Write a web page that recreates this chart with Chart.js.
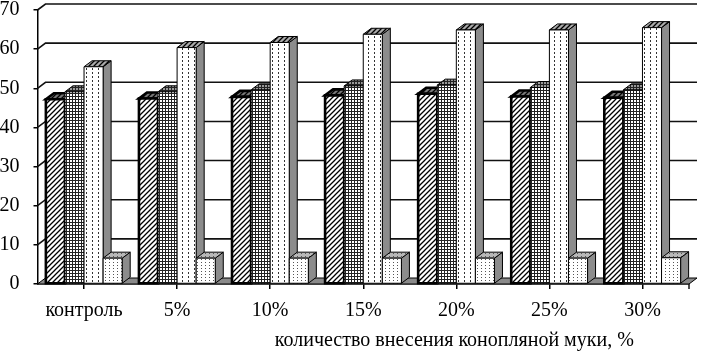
<!DOCTYPE html>
<html lang="ru">
<head>
  <meta charset="UTF-8" />
  <title>Количество внесения конопляной муки</title>
  <script src="https://cdn.jsdelivr.net/npm/chart.js@4"></script>
  <style>
    html, body { margin: 0; padding: 0; background: #fff; }
  </style>
</head>
<body>
<canvas id="chart" width="701" height="352"></canvas>

<script>
// values
const categories = ['контроль', '5%', '10%', '15%', '20%', '25%', '30%'];
const series1 = [47.2, 47.4, 47.8, 48.2, 48.6, 47.9, 47.6];
const series2 = [49.1, 49.1, 49.6, 50.6, 50.8, 50.2, 49.6];
const series3 = [55.5, 60.4, 61.7, 63.8, 64.9, 64.9, 65.5];
const series4 = [6.6, 6.6, 6.6, 6.6, 6.6, 6.6, 6.7];
const yMin = 0, yMax = 70, yStep = 10;
const xTitle = 'количество внесения конопляной муки, %';

const canvas = document.getElementById('chart');
const ctx = canvas.getContext('2d');
const FONT = { family: '"Liberation Serif", "Times New Roman", serif', size: 20 };
const DX = 8, DY = 6; // 3d depth

function tile(w, h, bg, draw) {
  const c = document.createElement('canvas');
  c.width = w; c.height = h;
  const g = c.getContext('2d');
  g.fillStyle = bg;
  g.fillRect(0, 0, w, h);
  draw(g);
  return ctx.createPattern(c, 'repeat');
}

function hatch(bg) {
  return tile(5, 5, bg, g => {
    g.strokeStyle = '#000'; g.lineWidth = 1.3;
    g.beginPath();
    g.moveTo(0, 5); g.lineTo(5, 0);
    g.moveTo(-1, 1); g.lineTo(1, -1);
    g.moveTo(4, 6); g.lineTo(6, 4);
    g.stroke();
  });
}
const gridPat = bg => tile(3, 3, bg, g => {
  g.fillStyle = '#222';
  g.fillRect(0, 0, 3, 1);
  g.fillRect(0, 0, 1, 3);
});
const dashPat = bg => tile(6, 4, bg, g => {
  g.fillStyle = '#333';
  g.fillRect(2, 0, 1, 2);
});
const dotPat = bg => tile(4, 3, bg, g => {
  g.fillStyle = '#555';
  g.fillRect(1, 1, 1, 1);
});

const styles = [
  { front: hatch('#fff'), top: hatch('#777'), side: '#777', border: 2.6 },
  { front: gridPat('#fff'), top: gridPat('#999'), side: '#888', border: 1 },
  { front: dashPat('#fff'), top: hatch('#aaa'), side: '#8c8c8c', border: 1 },
  { front: dotPat('#fff'), top: dotPat('#b8b8b8'), side: '#8c8c8c', border: 1 }
];

function poly(pts, fill, lw) {
  ctx.beginPath();
  ctx.moveTo(pts[0][0], pts[0][1]);
  for (let i = 1; i < pts.length; i++) ctx.lineTo(pts[i][0], pts[i][1]);
  ctx.closePath();
  ctx.fillStyle = fill;
  ctx.fill();
  ctx.lineWidth = lw;
  ctx.strokeStyle = '#000';
  ctx.lineJoin = 'miter';
  ctx.stroke();
}

const box3d = {
  id: 'box3d',
  beforeDatasetsDraw(chart) {
    const { left, right, bottom } = chart.chartArea;
    const y = chart.scales.y;
    const c = chart.ctx;
    c.save();
    // floor
    poly([[left, bottom], [right, bottom], [right + DX, bottom - DY], [left + DX, bottom - DY]], '#8a8a8a', 1);
    // back wall grid
    c.strokeStyle = '#111';
    c.lineWidth = 1.6;
    for (let v = yMin + yStep; v <= yMax; v += yStep) {
      const py = y.getPixelForValue(v);
      c.beginPath();
      c.moveTo(left, py);
      c.lineTo(left + DX, py - DY);
      c.lineTo(right + DX, py - DY);
      c.stroke();
    }
    // small end tick at the right corner of the floor
    c.lineWidth = 1.5;
    c.beginPath();
    c.moveTo(right, bottom);
    c.lineTo(right, bottom + 5);
    c.stroke();
    c.restore();
  },
  afterDatasetsDraw(chart) {
    const c = chart.ctx;
    c.save();
    categories.forEach((cat, i) => {
      styles.forEach((st, d) => {
        const el = chart.getDatasetMeta(d).data[i];
        const { x, y, base, width } = el.getProps(['x', 'y', 'base', 'width'], true);
        const l = x - width / 2, r = x + width / 2;
        poly([[r, y], [r + DX, y - DY], [r + DX, base - DY], [r, base]], st.side, 1);
        poly([[l, y], [l + DX, y - DY], [r + DX, y - DY], [r, y]], st.top, st.border);
        poly([[l, y], [r, y], [r, base], [l, base]], st.front, st.border);
      });
    });
    c.restore();
  },
  afterDraw(chart) {
    const c = chart.ctx;
    const x = chart.scales.x;
    c.save();
    c.font = FONT.size + 'px ' + FONT.family;
    c.fillStyle = '#000';
    c.textAlign = 'center';
    c.textBaseline = 'middle';
    c.fillText(xTitle, x.getPixelForValue(4) - 2, chart.height - 11);
    c.restore();
  }
};

const seriesList = [series1, series2, series3, series4];

new Chart(ctx, {
  type: 'bar',
  data: {
    labels: categories,
    datasets: seriesList.map((vals, i) => ({
      label: 'ряд ' + (i + 1),
      data: vals,
      backgroundColor: 'rgba(0,0,0,0)',
      borderWidth: 0,
      categoryPercentage: 0.82,
      barPercentage: 1.0
    }))
  },
  options: {
    responsive: false,
    animation: false,
    devicePixelRatio: 1,
    layout: { padding: { top: 10, right: 12, bottom: 30, left: 0 } },
    plugins: { legend: { display: false }, tooltip: { enabled: false } },
    scales: {
      x: {
        grid: { offset: false, drawOnChartArea: false, tickLength: 5, color: '#000', lineWidth: 1.5 },
        border: { color: '#000', width: 1.5 },
        ticks: { font: FONT, color: '#000', padding: 10, maxRotation: 0 },
        afterFit(scale) {
          scale.height = 38;
          scale.paddingLeft = 0;
          scale.paddingRight = 0;
        }
      },
      y: {
        min: yMin,
        max: yMax,
        grid: { drawOnChartArea: false, tickLength: 4, color: '#000', lineWidth: 1.5 },
        border: { color: '#000', width: 1.5 },
        ticks: { stepSize: yStep, font: FONT, color: '#000', padding: 14 },
        afterFit(scale) {
          scale.width = 37.5;
          scale.paddingTop = 0;
          scale.paddingBottom = 0;
        }
      }
    }
  },
  plugins: [box3d]
});
</script>
</body>
</html>
